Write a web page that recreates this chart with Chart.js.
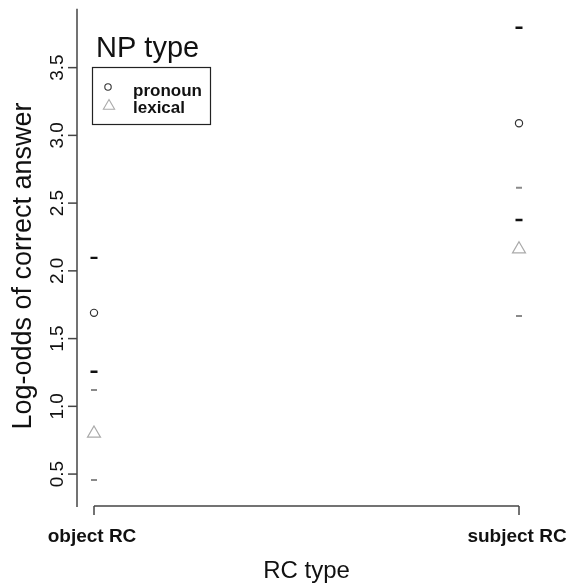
<!DOCTYPE html>
<html>
<head>
<meta charset="utf-8">
<script src="https://cdn.jsdelivr.net/npm/chart.js@4/dist/chart.umd.min.js"></script>
<style>
html,body{margin:0;padding:0;background:#fff;}
canvas{display:block;}
</style>
</head>
<body>
<canvas id="c" width="566" height="588"></canvas>
<script>
// ---- data ----
const categories = ['object RC', 'subject RC'];
const pronounMean  = [1.69, 3.09];
const pronounLower = [1.255, 2.375];
const pronounUpper = [2.096, 3.794];
const lexicalMean  = [0.80, 2.16];
const lexicalLower = [0.456, 1.666];
const lexicalUpper = [1.12, 2.613];
const yTickValues = [0.5, 1.0, 1.5, 2.0, 2.5, 3.0, 3.5];
const yTickLabels = ['0.5', '1.0', '1.5', '2.0', '2.5', '3.0', '3.5'];
const seriesNames = ['pronoun', 'lexical'];
const legendTitle = 'NP type';
const xTitle = 'RC type';
const yTitle = 'Log-odds of correct answer';

const FONT = '"Liberation Sans", Arial, Helvetica, sans-serif';
const pts = arr => arr.map((v, i) => ({x: i + 1, y: v}));
const ends = (lo, hi) => lo.map((v, i) => ({x: i + 1, y: v})).concat(hi.map((v, i) => ({x: i + 1, y: v})));

const axesPlugin = {
  id: 'rAxes',
  afterDraw(chart) {
    const ctx = chart.ctx;
    const xs = chart.scales.x, ys = chart.scales.y;
    const ca = chart.chartArea;
    ctx.save();
    ctx.strokeStyle = '#444';
    ctx.lineWidth = 1.5;
    // y axis line
    ctx.beginPath();
    ctx.moveTo(ca.left, ca.top);
    ctx.lineTo(ca.left, ca.bottom);
    ctx.stroke();
    // y ticks + labels
    ctx.fillStyle = '#111';
    ctx.font = '19px ' + FONT;
    yTickValues.forEach((v, i) => {
      const py = ys.getPixelForValue(v);
      ctx.beginPath();
      ctx.moveTo(ca.left, py);
      ctx.lineTo(ca.left - 9, py);
      ctx.stroke();
      ctx.save();
      ctx.translate(ca.left - 14, py);
      ctx.rotate(-Math.PI / 2);
      ctx.textAlign = 'center';
      ctx.textBaseline = 'alphabetic';
      ctx.fillText(yTickLabels[i], 0, 0);
      ctx.restore();
    });
    // x axis line (first to last tick)
    const axY = ca.bottom - 1;
    const x1 = xs.getPixelForValue(1), x2 = xs.getPixelForValue(categories.length);
    ctx.beginPath();
    ctx.moveTo(x1, axY);
    ctx.lineTo(x2, axY);
    ctx.stroke();
    ctx.font = 'bold 19px ' + FONT;
    ctx.textAlign = 'center';
    ctx.textBaseline = 'alphabetic';
    categories.forEach((c, i) => {
      const px = xs.getPixelForValue(i + 1);
      ctx.beginPath();
      ctx.moveTo(px, axY);
      ctx.lineTo(px, axY + 9);
      ctx.stroke();
      ctx.fillText(c, px - 2, 542);
    });
    // axis titles
    ctx.font = '24px ' + FONT;
    ctx.fillText(xTitle, (ca.left + ca.right) / 2, 578);
    ctx.save();
    ctx.translate(31, 266);
    ctx.rotate(-Math.PI / 2);
    ctx.font = '27px ' + FONT;
    ctx.fillText(yTitle, 0, 0);
    ctx.restore();
    // legend
    ctx.textAlign = 'left';
    ctx.font = '29px ' + FONT;
    ctx.fillText(legendTitle, 96, 57);
    ctx.lineWidth = 1.2;
    ctx.strokeStyle = '#222';
    ctx.strokeRect(92.5, 67.5, 118, 57);
    // circle
    ctx.beginPath();
    ctx.arc(108, 87, 3.2, 0, Math.PI * 2);
    ctx.strokeStyle = '#333';
    ctx.lineWidth = 1.1;
    ctx.stroke();
    // triangle
    const tr = 6.5;
    ctx.beginPath();
    for (let k = 0; k < 3; k++) {
      const a = k * 2 * Math.PI / 3;
      const tx = 109 + Math.sin(a) * tr, ty = 106 - Math.cos(a) * tr;
      if (k === 0) ctx.moveTo(tx, ty); else ctx.lineTo(tx, ty);
    }
    ctx.closePath();
    ctx.strokeStyle = '#aaa';
    ctx.stroke();
    ctx.font = 'bold 17px ' + FONT;
    ctx.fillStyle = '#111';
    ctx.fillText(seriesNames[0], 133, 96);
    ctx.fillText(seriesNames[1], 133, 113);
    ctx.restore();
  }
};

new Chart(document.getElementById('c'), {
  type: 'scatter',
  data: {
    datasets: [
      { label: seriesNames[0], data: pts(pronounMean), pointStyle: 'circle', pointRadius: 3.6,
        borderColor: '#333', backgroundColor: 'rgba(0,0,0,0)', borderWidth: 1.2 },
      { label: seriesNames[1], data: pts(lexicalMean), pointStyle: 'triangle', pointRadius: 7.5,
        borderColor: '#aaa', backgroundColor: 'rgba(0,0,0,0)', borderWidth: 1.2 },
      { label: seriesNames[0] + ' interval', data: ends(pronounLower, pronounUpper), pointStyle: 'line',
        pointRadius: 3.5, borderColor: '#111', borderWidth: 2.4 },
      { label: seriesNames[1] + ' interval', data: ends(lexicalLower, lexicalUpper), pointStyle: 'line',
        pointRadius: 3, borderColor: '#8a8a8a', borderWidth: 2 }
    ]
  },
  options: {
    responsive: false,
    animation: false,
    devicePixelRatio: 1,
    layout: { padding: { left: 77, top: 8, right: 30, bottom: 81 } },
    plugins: { legend: { display: false }, tooltip: { enabled: false } },
    scales: {
      x: { type: 'linear', min: 0.96, max: 2.04, display: false },
      y: { type: 'linear', min: 0.257, max: 3.935, display: false }
    }
  },
  plugins: [axesPlugin]
});
</script>
</body>
</html>
